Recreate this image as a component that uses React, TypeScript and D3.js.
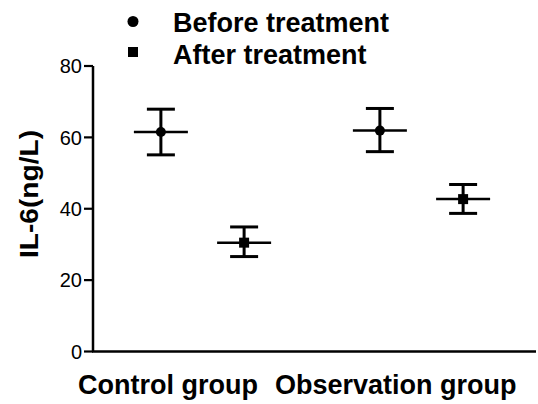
import React from "react";
import * as d3 from "d3";

const groups = ["Control group", "Observation group"];
const series = ["Before treatment", "After treatment"];
// mean, upper, lower per series per group
const beforeMean = [61.5, 61.9];
const beforeUpper = [67.9, 68.1];
const beforeLower = [55.1, 56.0];
const afterMean = [30.5, 42.7];
const afterUpper = [34.9, 46.8];
const afterLower = [26.6, 38.7];
const yTicks = [0, 20, 40, 60, 80];

const W = 538;
const H = 404;
const left = 93;
const right = 531;
const top = 66;
const bottom = 351.5;

export default function App() {
  const x = d3.scaleBand<string>().domain(groups).range([left, right]);
  const inner = d3
    .scalePoint<string>()
    .domain(series)
    .range([x.bandwidth() * 0.31, x.bandwidth() * 0.69]);
  const y = d3.scaleLinear().domain([0, 80]).range([bottom, top]);

  const data = [
    { s: series[0], mean: beforeMean, up: beforeUpper, lo: beforeLower },
    { s: series[1], mean: afterMean, up: afterUpper, lo: afterLower },
  ];

  const font = "'Liberation Sans', Arial, sans-serif";
  const labelX = [78, 275];

  return (
    <svg
      width={W}
      height={H}
      style={{ position: "absolute", left: 0, top: 0, background: "#fff" }}
    >
      <rect width={W} height={H} fill="#fff" />
      {/* axes */}
      <line x1={left} x2={left} y1={y(80)} y2={y(0)} stroke="#000" strokeWidth={2.5} />
      <line x1={left - 1} x2={536} y1={y(0)} y2={y(0)} stroke="#000" strokeWidth={2.5} />
      {yTicks.map((t) => (
        <g key={t}>
          <line x1={left - 9} x2={left} y1={y(t)} y2={y(t)} stroke="#000" strokeWidth={2.2} />
          <text
            x={left - 11}
            y={y(t)}
            dy="0.36em"
            textAnchor="end"
            fontFamily={font}
            fontSize={20}
            fill="#000"
          >
            {t}
          </text>
        </g>
      ))}
      <text
        transform={`translate(38, 194) rotate(-90)`}
        textAnchor="middle"
        fontFamily={font}
        fontWeight="bold"
        fontSize={26}
        textLength={128}
        lengthAdjust="spacingAndGlyphs"
      >
        IL-6(ng/L)
      </text>
      {groups.map((g, i) => (
        <text
          key={g}
          x={labelX[i]}
          y={394}
          fontFamily={font}
          fontWeight="bold"
          fontSize={27}
        >
          {g}
        </text>
      ))}
      {/* points */}
      {data.map((d) =>
        groups.map((g, i) => {
          const cx = (x(g) as number) + (inner(d.s) as number);
          const cy = y(d.mean[i]);
          return (
            <g key={d.s + g}>
              <line x1={cx} x2={cx} y1={y(d.up[i])} y2={y(d.lo[i])} stroke="#000" strokeWidth={3} />
              <line x1={cx - 14} x2={cx + 14} y1={y(d.up[i])} y2={y(d.up[i])} stroke="#000" strokeWidth={3} />
              <line x1={cx - 14} x2={cx + 14} y1={y(d.lo[i])} y2={y(d.lo[i])} stroke="#000" strokeWidth={3} />
              <line x1={cx - 27} x2={cx + 27} y1={cy} y2={cy} stroke="#000" strokeWidth={2.5} />
              {d.s === series[0] ? (
                <circle cx={cx} cy={cy} r={5} fill="#000" />
              ) : (
                <rect x={cx - 5} y={cy - 5} width={10} height={10} fill="#000" />
              )}
            </g>
          );
        })
      )}
      {/* legend */}
      <circle cx={133} cy={21.5} r={5.5} fill="#000" />
      <rect x={128} y={47} width={10} height={10} fill="#000" />
      <text x={173} y={31.5} fontFamily={font} fontWeight="bold" fontSize={27}>
        {series[0]}
      </text>
      <text x={173} y={64} fontFamily={font} fontWeight="bold" fontSize={27}>
        {series[1]}
      </text>
    </svg>
  );
}
